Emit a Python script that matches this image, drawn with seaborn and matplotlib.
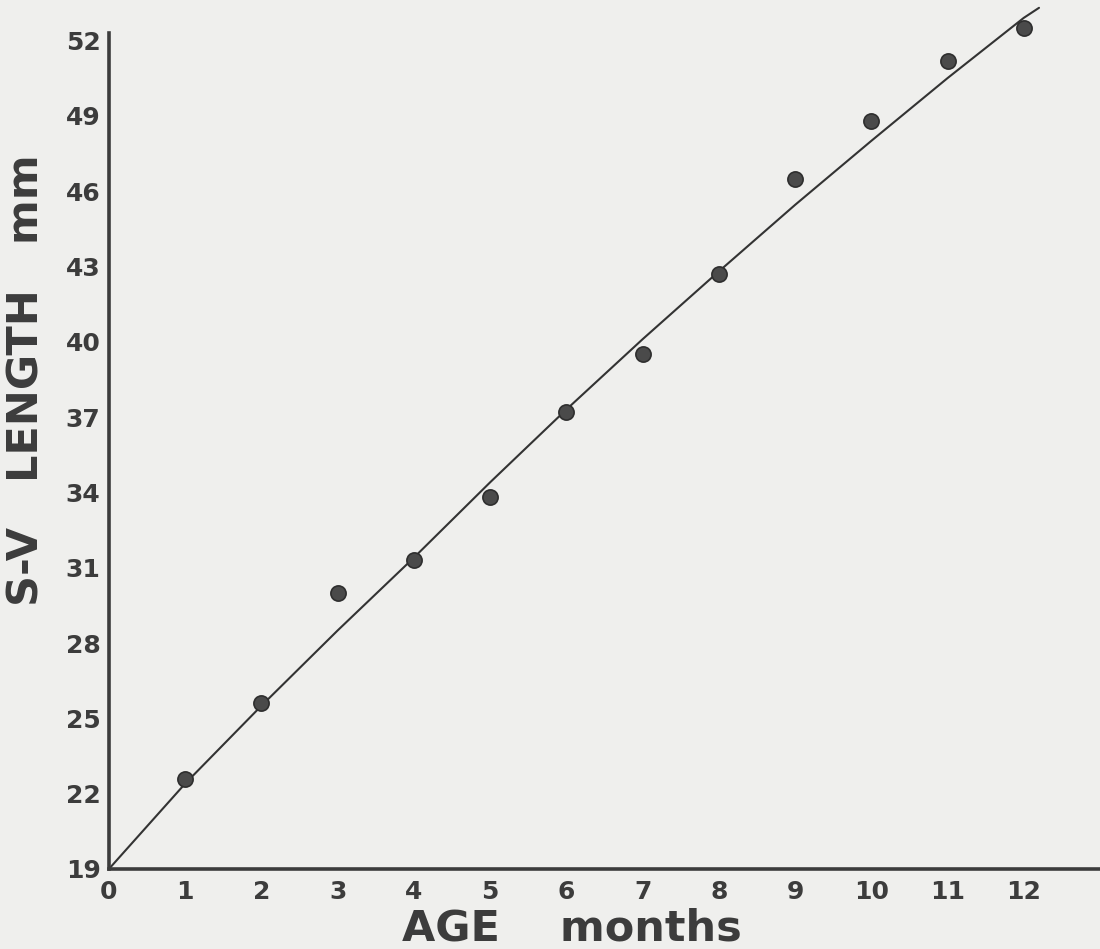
import matplotlib
matplotlib.use('Agg')
import matplotlib.pyplot as plt
import pandas as pd
import seaborn as sns

# measured points: snout-vent length (mm) by age (months)
ages = [1, 2, 3, 4, 5, 6, 7, 8, 9, 10, 11, 12]
lengths = [22.6, 25.6, 30.0, 31.3, 33.8, 37.2, 39.5, 42.7, 46.5, 48.8, 51.2, 52.5]

# fitted growth curve
fit_age = [0, 1, 2, 3, 4, 5, 6, 7, 8, 9, 10, 11, 12, 12.2]
fit_len = [19.0, 22.4, 25.5, 28.5, 31.4, 34.4, 37.3, 40.1, 42.8, 45.45, 48.0, 50.5, 52.9, 53.3]

x_ticks = list(range(0, 13))
y_ticks = [19, 22, 25, 28, 31, 34, 37, 40, 43, 46, 49, 52]

bg = '#efefed'
ink = '#3c3c3c'

sns.set_style('ticks')
plt.rcParams['font.family'] = ['DejaVu Sans']

points = pd.DataFrame({'age': ages, 'length': lengths})
curve = pd.DataFrame({'age': fit_age, 'length': fit_len})

fig = plt.figure(figsize=(11, 9.49), dpi=100, facecolor=bg)
ax = fig.add_axes([0.099, 0.0843, 0.901, 0.881])
ax.set_facecolor(bg)

sns.lineplot(data=curve, x='age', y='length', ax=ax, color='#333333',
             linewidth=1.5, clip_on=False)
sns.scatterplot(data=points, x='age', y='length', ax=ax, s=120,
                color='#4a4a4a', edgecolor='#2e2e2e', linewidth=1.2,
                clip_on=False, zorder=3)

ax.set_xlim(0, 13)
ax.set_ylim(19, 52.3)
ax.set_xticks(x_ticks)
ax.set_yticks(y_ticks)
ax.tick_params(axis='both', length=0, labelsize=18, labelcolor=ink)
ax.tick_params(axis='x', pad=8)
ax.tick_params(axis='y', pad=6)
for lab in ax.get_xticklabels() + ax.get_yticklabels():
    lab.set_fontweight('bold')

sns.despine(ax=ax)
for side in ['left', 'bottom']:
    ax.spines[side].set_color(ink)
    ax.spines[side].set_linewidth(2.6)

ax.set_xlabel('AGE    months', fontsize=31, fontweight='bold', color=ink, va='center')
ax.xaxis.set_label_coords(0.467, -0.071)
ax.set_ylabel('S-V   LENGTH   mm', fontsize=31, fontweight='bold', color=ink, va='center')
ax.yaxis.set_label_coords(-0.083, 0.585)

fig.savefig('out.png', dpi=100, facecolor=bg)
